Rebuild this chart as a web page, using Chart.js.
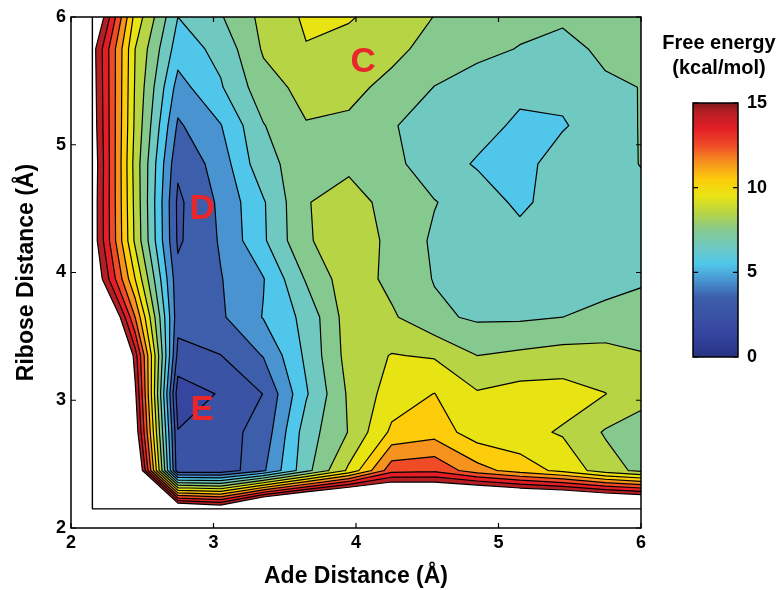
<!DOCTYPE html>
<html>
<head>
<meta charset="utf-8">
<script src="https://cdn.jsdelivr.net/npm/chart.js@4.4.0/dist/chart.umd.min.js"></script>
<style>
  html, body { margin: 0; padding: 0; background: #fff; }
  #wrap { width: 782px; height: 590px; }
</style>
</head>
<body>
<div id="wrap"><canvas id="fes"></canvas></div>
<script>
// grid of the free energy surface (Angstrom)
const adeDistance = [2.15, 2.45, 2.75, 3.05, 3.35, 3.65, 3.95, 4.25, 4.55, 4.85, 5.15, 5.45, 5.75, 6.05];
const riboseDistance = [2.15, 2.45, 2.75, 3.05, 3.35, 3.65, 3.95, 4.25, 4.55, 4.85, 5.15, 5.45, 5.75, 6.05];

// free energy (kcal/mol), one row per ribose distance, bottom to top
const row215 = [40, 30, 17.2, 16.4, 20.0, 21.6, 22.5, 20.6, 20.1, 20.9, 20.3, 20.1, 19.6, 19.2];
const row245 = [30, 17.6, 2.3, 2.28, 3.85, 6.65, 9.2, 12.6, 12.8, 11.4, 10.54, 9.72, 8.46, 7.6];
const row275 = [28, 15.9, 2.05, 2.62, 3.35, 6.5, 8.05, 10.2, 10.6, 9.46, 9.3, 8.9, 7.9, 7.6];
const row305 = [27, 15.25, 1.4, 2.09, 3.02, 5.89, 8.16, 9.44, 10.02, 9.1, 9.4, 9.4, 9.02, 8.2];
const row335 = [25, 14.5, 2.7, 2.98, 4.05, 6.2, 8.4, 9.05, 8.9, 8.0, 8.2, 8.4, 8.4, 8.05];
const row365 = [20.6, 12.0, 3.35, 3.85, 5.05, 6.3, 8.5, 8.15, 7.2, 6.85, 6.85, 7.0, 7.2, 7.25];
const row395 = [16.5, 10.0, 3.3, 3.95, 4.95, 7.1, 8.6, 7.72, 6.95, 6.5, 6.4, 6.5, 6.75, 6.95];
const row425 = [15.8, 8.8, 2.85, 4.1, 5.85, 7.9, 8.5, 7.81, 6.83, 6.5, 6.3, 6.3, 6.4, 6.6];
const row455 = [15.8, 8.7, 2.8, 4.2, 5.9, 7.95, 8.4, 7.66, 7.05, 6.45, 5.82, 6.41, 6.7, 6.9];
const row485 = [15.9, 8.6, 3.2, 4.46, 6.7, 7.47, 7.8, 7.3, 6.4, 5.92, 5.6, 6.55, 6.8, 7.06];
const row515 = [15.7, 8.8, 3.85, 4.95, 6.95, 7.95, 7.8, 7.1, 6.43, 6.3, 5.85, 5.9, 6.6, 7.13];
const row545 = [15.6, 8.9, 4.6, 5.9, 7.6, 8.3, 8.3, 7.69, 6.98, 6.5, 6.2, 6.3, 6.85, 7.05];
const row575 = [15.5, 9.0, 5.5, 6.29, 8.12, 8.95, 8.6, 8.3, 7.6, 7.3, 6.95, 6.7, 7.2, 7.3];
const row605 = [17.3, 9.8, 6.1, 7.0, 8.3, 9.2, 9.2, 8.6, 8.05, 7.6, 7.4, 7.25, 7.4, 7.5];
const freeEnergy = [row215, row245, row275, row305, row335, row365, row395,
                    row425, row455, row485, row515, row545, row575, row605];

const levels = [0, 1, 2, 3, 4, 5, 6, 7, 8, 9, 10, 11, 12, 13, 14, 15];
const colorbarTicks = [0, 5, 10, 15];

const basinNames = ['C', 'D', 'E'];
const basinAde = [4.05, 2.92, 2.92];
const basinRibose = [5.65, 4.5, 2.93];

// band colours, one per interval between levels
const bandColors = ['#2c3990', '#3646a0', '#3a53a5', '#3c5eab', '#4893d0', '#50c7ea', '#6fc9c1',
                    '#86c98f', '#b7d445', '#e8e414', '#fdcc0b', '#f6921e', '#ef4b27', '#e31e26', '#b41f24'];

const FONT = "'Liberation Sans', Arial, Helvetica, sans-serif";
Chart.defaults.font.family = FONT;
Chart.defaults.color = '#000';

// marching squares on one cell for the region value >= lev
function cellPieces(P, V, lev, center) {
  const up = V.map(v => v >= lev);
  const n = up.filter(Boolean).length;
  if (n === 0) return null;
  if (n === 4) return { polys: [P], segs: [] };
  const cross = k => {
    const k1 = (k + 1) % 4;
    const t = (lev - V[k]) / (V[k1] - V[k]);
    return [P[k][0] + t * (P[k1][0] - P[k][0]), P[k][1] + t * (P[k1][1] - P[k][1])];
  };
  if (n === 2 && up[0] === up[2] && center < lev) {
    const polys = [], segs = [];
    for (let k = 0; k < 4; k++) {
      if (!up[k]) continue;
      const a0 = cross((k + 3) % 4), a1 = cross(k);
      polys.push([a0, P[k], a1]);
      segs.push([a1, a0]);
    }
    return { polys, segs };
  }
  const poly = [], cr = [];
  for (let k = 0; k < 4; k++) {
    if (up[k]) poly.push(P[k]);
    if (up[k] !== up[(k + 1) % 4]) {
      const c = cross(k);
      poly.push(c);
      cr.push({ p: c, exit: up[k] });
    }
  }
  const segs = [];
  for (let m = 0; m < cr.length; m++) {
    if (cr[m].exit) segs.push([cr[m].p, cr[(m + 1) % cr.length].p]);
  }
  return { polys: [poly], segs };
}

const contourPlugin = {
  id: 'contour',
  beforeDatasetsDraw(chart) {
    const { ctx, chartArea: a, scales: { x, y } } = chart;
    const cells = [];
    for (let j = 0; j < riboseDistance.length - 1; j++) {
      for (let i = 0; i < adeDistance.length - 1; i++) {
        const x0 = x.getPixelForValue(adeDistance[i]), x1 = x.getPixelForValue(adeDistance[i + 1]);
        const y0 = y.getPixelForValue(riboseDistance[j]), y1 = y.getPixelForValue(riboseDistance[j + 1]);
        const V = [freeEnergy[j][i], freeEnergy[j][i + 1], freeEnergy[j + 1][i + 1], freeEnergy[j + 1][i]];
        cells.push({ P: [[x0, y0], [x1, y0], [x1, y1], [x0, y1]], V, c: (V[0] + V[1] + V[2] + V[3]) / 4 });
      }
    }
    ctx.save();
    ctx.beginPath();
    ctx.rect(a.left, a.top, a.right - a.left, a.bottom - a.top);
    ctx.clip();

    const fillLevel = (lev, color) => {
      ctx.beginPath();
      cells.forEach(cell => {
        const r = cellPieces(cell.P, cell.V, lev, cell.c);
        if (!r) return;
        r.polys.forEach(poly => {
          ctx.moveTo(poly[0][0], poly[0][1]);
          for (let k = 1; k < poly.length; k++) ctx.lineTo(poly[k][0], poly[k][1]);
          ctx.closePath();
        });
      });
      ctx.fillStyle = color;
      ctx.fill();
    };
    bandColors.forEach((col, k) => fillLevel(levels[k], col));
    fillLevel(levels[levels.length - 1], '#ffffff');

    ctx.beginPath();
    levels.forEach(lev => {
      cells.forEach(cell => {
        const r = cellPieces(cell.P, cell.V, lev, cell.c);
        if (!r) return;
        r.segs.forEach(s => { ctx.moveTo(s[0][0], s[0][1]); ctx.lineTo(s[1][0], s[1][1]); });
      });
    });
    ctx.strokeStyle = '#000';
    ctx.lineWidth = 1.2;
    ctx.lineJoin = 'round';
    ctx.lineCap = 'round';
    ctx.stroke();

    // data domain outline
    const gx0 = x.getPixelForValue(adeDistance[0]), gx1 = x.getPixelForValue(adeDistance[adeDistance.length - 1]);
    const gy0 = y.getPixelForValue(riboseDistance[0]), gy1 = y.getPixelForValue(riboseDistance[riboseDistance.length - 1]);
    ctx.lineWidth = 1.4;
    ctx.strokeRect(gx0, gy1, gx1 - gx0, gy0 - gy1);
    ctx.restore();
  },
  afterDraw(chart) {
    const { ctx, chartArea: a, scales: { x, y } } = chart;
    ctx.save();
    // basin labels
    ctx.fillStyle = '#e8262b';
    ctx.font = 'bold 35px ' + FONT;
    ctx.textAlign = 'center';
    ctx.textBaseline = 'middle';
    basinNames.forEach((nm, k) => {
      ctx.fillText(nm, x.getPixelForValue(basinAde[k]), y.getPixelForValue(basinRibose[k]) + 1);
    });

    // axes box with inward ticks
    ctx.strokeStyle = '#000';
    ctx.lineWidth = 1.5;
    ctx.strokeRect(a.left, a.top, a.right - a.left, a.bottom - a.top);
    ctx.beginPath();
    x.ticks.forEach(t => {
      const p = x.getPixelForValue(t.value);
      ctx.moveTo(p, a.bottom); ctx.lineTo(p, a.bottom - 5);
      ctx.moveTo(p, a.top); ctx.lineTo(p, a.top + 5);
    });
    y.ticks.forEach(t => {
      const p = y.getPixelForValue(t.value);
      ctx.moveTo(a.left, p); ctx.lineTo(a.left + 5, p);
      ctx.moveTo(a.right, p); ctx.lineTo(a.right - 5, p);
    });
    ctx.lineWidth = 1.2;
    ctx.stroke();

    // colour bar
    const cb = { left: 693, right: 738, top: 103, bottom: 357 };
    const vmax = levels[levels.length - 1];
    const cy = v => cb.bottom - (v / vmax) * (cb.bottom - cb.top);
    const grad = ctx.createLinearGradient(0, cb.bottom, 0, cb.top);
    grad.addColorStop(0, '#27337f');
    bandColors.forEach((col, k) => grad.addColorStop((k + 0.5) / bandColors.length, col));
    grad.addColorStop(1, '#7f1619');
    ctx.fillStyle = grad;
    ctx.fillRect(cb.left, cb.top, cb.right - cb.left, cb.bottom - cb.top);
    ctx.lineWidth = 1.5;
    ctx.strokeRect(cb.left, cb.top, cb.right - cb.left, cb.bottom - cb.top);
    ctx.beginPath();
    colorbarTicks.forEach(v => {
      const p = cy(v);
      ctx.moveTo(cb.left, p); ctx.lineTo(cb.left + 5, p);
      ctx.moveTo(cb.right, p); ctx.lineTo(cb.right - 5, p);
    });
    ctx.lineWidth = 1.2;
    ctx.stroke();
    ctx.fillStyle = '#000';
    ctx.font = 'bold 18px ' + FONT;
    ctx.textAlign = 'left';
    colorbarTicks.forEach(v => ctx.fillText(String(v), cb.right + 9, cy(v)));
    ctx.font = 'bold 20px ' + FONT;
    ctx.textAlign = 'center';
    ctx.fillText('Free energy', 719, 43);
    ctx.fillText('(kcal/mol)', 719, 68);
    ctx.restore();
  }
};

new Chart(document.getElementById('fes'), {
  type: 'scatter',
  data: { datasets: [] },
  options: {
    responsive: true,
    maintainAspectRatio: false,
    animation: false,
    devicePixelRatio: 1,
    layout: { padding: { top: 17, right: 141, left: 0, bottom: 0 } },
    plugins: { legend: { display: false }, tooltip: { enabled: false } },
    scales: {
      x: {
        type: 'linear', min: 2, max: 6,
        afterFit: s => { s.height = 62; },
        ticks: { stepSize: 1, padding: 4, maxRotation: 0, font: { size: 18, weight: 'bold' } },
        grid: { display: false, drawTicks: false },
        border: { display: false },
        title: { display: true, text: 'Ade Distance (Å)', font: { size: 23, weight: 'bold' }, padding: { top: 0, bottom: 0 } }
      },
      y: {
        type: 'linear', min: 2, max: 6,
        afterFit: s => { s.width = 71; },
        ticks: { stepSize: 1, padding: 5, font: { size: 18, weight: 'bold' } },
        grid: { display: false, drawTicks: false },
        border: { display: false },
        title: { display: true, text: 'Ribose Distance (Å)', font: { size: 23, weight: 'bold' }, padding: { top: 13, bottom: 0 } }
      }
    }
  },
  plugins: [contourPlugin]
});
</script>
</body>
</html>
